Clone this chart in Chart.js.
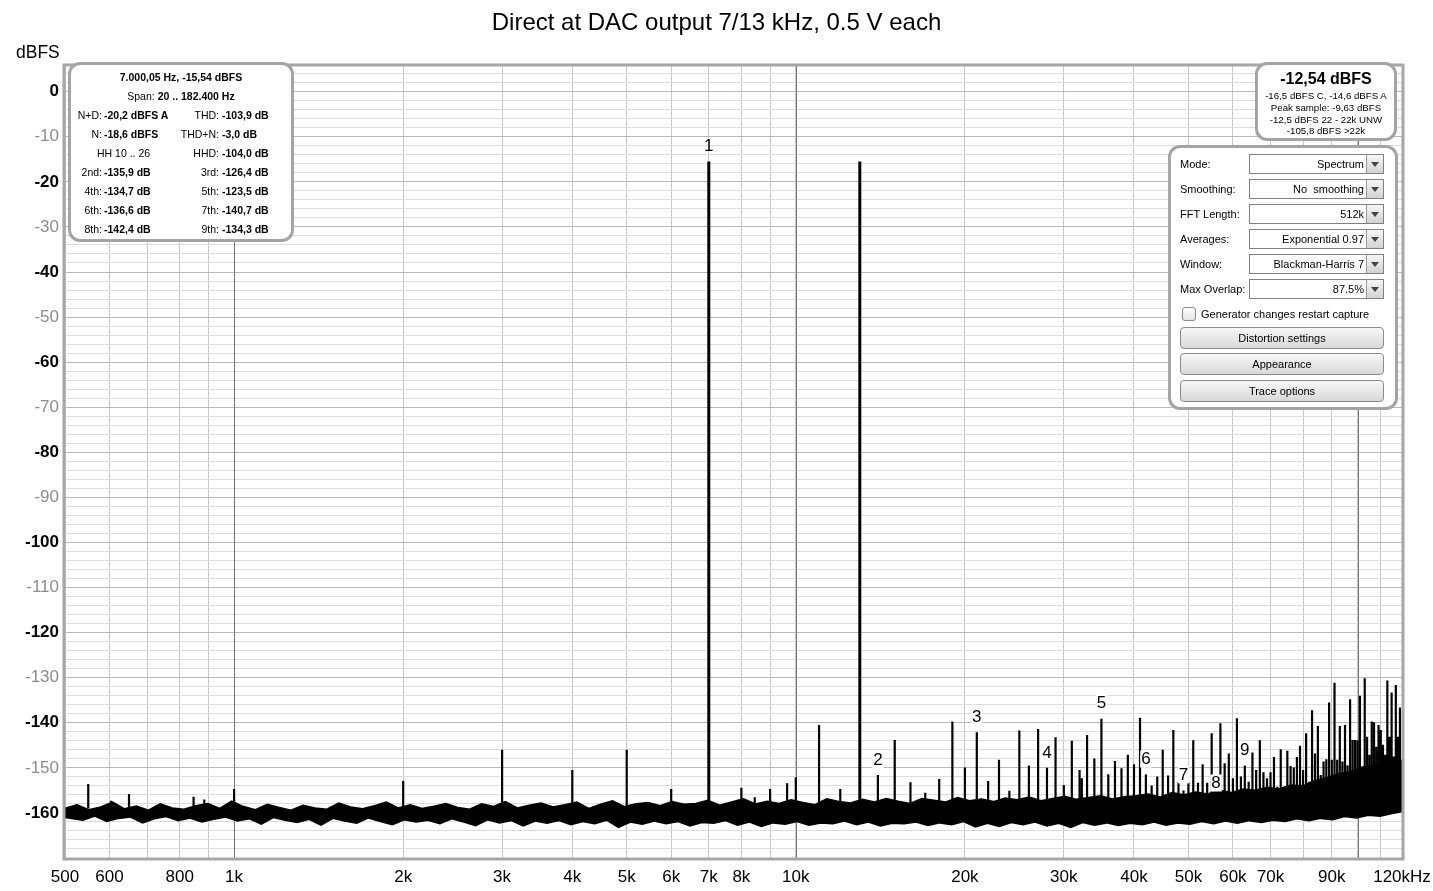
<!DOCTYPE html>
<html>
<head>
<meta charset="utf-8">
<title>Direct at DAC output 7/13 kHz</title>
<script src="https://cdn.jsdelivr.net/npm/chart.js@4.4.1/dist/chart.umd.min.js"></script>
<style>
body { margin: 0; background: #fff; font-family: "Liberation Sans", Arial, sans-serif; color: #000; }
#wrap { position: relative; width: 1433px; height: 891px; overflow: hidden; }
canvas { position: absolute; left: 0; top: 0; }
#title { position: absolute; left: 0; top: 8px; width: 1433px; text-align: center; font-size: 24px; line-height: 28px; }
#unit { position: absolute; left: 16px; top: 42px; font-size: 17.5px; line-height: 20px; }
.panel { position: absolute; box-sizing: border-box; border: 3px solid #a4a4a4; border-radius: 12px; background: #fff; }
.row { position: absolute; left: 0; width: 100%; height: 19px; line-height: 19px; font-size: 10.5px; white-space: nowrap; }
.row span, .row b { position: absolute; top: 0; }
.a { left: 0; width: 31px; text-align: right; }
.b { left: 33px; }
.c { left: 0; width: 148px; text-align: right; }
.d { left: 151px; }
.ctr { left: 0; width: 100%; text-align: center; }
.line { position: absolute; left: 0; width: 100%; text-align: center; white-space: nowrap; }
.lbl { position: absolute; left: 9px; height: 20px; line-height: 20px; font-size: 11px; }
.dd { position: absolute; left: 78px; width: 135px; height: 20px; box-sizing: border-box; border: 1px solid #808080; background: #fff; font-size: 11px; line-height: 18px; }
.dd span { position: absolute; right: 19px; top: 0; white-space: pre; }
.dd i { position: absolute; right: 0; top: 0; width: 16px; height: 18px; background: linear-gradient(#f6f6f6, #d2d2d2); border-left: 1px solid #9a9a9a; }
.dd i:after { content: ''; position: absolute; left: 4px; top: 7px; border-left: 4px solid transparent; border-right: 4px solid transparent; border-top: 5px solid #444; }
.chk { position: absolute; left: 11px; top: 159px; width: 14px; height: 14px; box-sizing: border-box; border: 1px solid #8a8a8a; border-radius: 3px; background: linear-gradient(#fdfdfd, #e4e4e4); }
.chkl { position: absolute; left: 30px; top: 158px; line-height: 16px; font-size: 11px; white-space: nowrap; }
.btn { position: absolute; left: 9px; width: 204px; height: 22px; box-sizing: border-box; border: 1px solid #8c8c8c; border-radius: 4px; background: linear-gradient(#f7f7f7, #d8d8d8); text-align: center; line-height: 20px; font-size: 11px; }
</style>
</head>
<body>
<div id="wrap">
  <canvas id="spectrumChart" width="1433" height="891"></canvas>
  <div id="title">Direct at DAC output 7/13 kHz, 0.5 V each</div>
  <div id="unit">dBFS</div>

  <div class="panel" style="left:68px;top:62px;width:226px;height:180px">
    <div class="row" style="top:2.5px"><b class="ctr">7.000,05 Hz, -15,54 dBFS</b></div>
    <div class="row" style="top:21.5px"><span class="ctr">Span: <b style="position:static">20 .. 182.400 Hz</b></span></div>
    <div class="row" style="top:40.5px"><span class="a">N+D:</span><b class="b">-20,2 dBFS A</b><span class="c">THD:</span><b class="d">-103,9 dB</b></div>
    <div class="row" style="top:59.5px"><span class="a">N:</span><b class="b">-18,6 dBFS</b><span class="c">THD+N:</span><b class="d">-3,0 dB</b></div>
    <div class="row" style="top:78.5px"><span style="left:26px">HH 10 .. 26</span><span class="c">HHD:</span><b class="d">-104,0 dB</b></div>
    <div class="row" style="top:97.5px"><span class="a">2nd:</span><b class="b">-135,9 dB</b><span class="c">3rd:</span><b class="d">-126,4 dB</b></div>
    <div class="row" style="top:116.5px"><span class="a">4th:</span><b class="b">-134,7 dB</b><span class="c">5th:</span><b class="d">-123,5 dB</b></div>
    <div class="row" style="top:135.5px"><span class="a">6th:</span><b class="b">-136,6 dB</b><span class="c">7th:</span><b class="d">-140,7 dB</b></div>
    <div class="row" style="top:154.5px"><span class="a">8th:</span><b class="b">-142,4 dB</b><span class="c">9th:</span><b class="d">-134,3 dB</b></div>
  </div>

  <div class="panel" style="left:1255px;top:62px;width:142px;height:79px">
    <div class="line" style="top:4px;line-height:20px;font-size:16px;font-weight:bold">-12,54 dBFS</div>
    <div class="line" style="top:25px;line-height:12px;font-size:9.7px">-16,5 dBFS C, -14,6 dBFS A</div>
    <div class="line" style="top:37px;line-height:12px;font-size:9.7px">Peak sample: -9,63 dBFS</div>
    <div class="line" style="top:49px;line-height:12px;font-size:9.7px">-12,5 dBFS 22 - 22k UNW</div>
    <div class="line" style="top:60px;line-height:12px;font-size:9.7px">-105,8 dBFS &gt;22k</div>
  </div>

  <div class="panel" style="left:1168px;top:145px;width:230px;height:265px">
    <div class="lbl" style="top:6px">Mode:</div>
    <div class="dd" style="top:6px"><span>Spectrum</span><i></i></div>
    <div class="lbl" style="top:31px">Smoothing:</div>
    <div class="dd" style="top:31px"><span>No  smoothing</span><i></i></div>
    <div class="lbl" style="top:56px">FFT Length:</div>
    <div class="dd" style="top:56px"><span>512k</span><i></i></div>
    <div class="lbl" style="top:81px">Averages:</div>
    <div class="dd" style="top:81px"><span>Exponential 0.97</span><i></i></div>
    <div class="lbl" style="top:106px">Window:</div>
    <div class="dd" style="top:106px"><span>Blackman-Harris 7</span><i></i></div>
    <div class="lbl" style="top:131px">Max Overlap:</div>
    <div class="dd" style="top:131px"><span>87.5%</span><i></i></div>
    <div class="chk"></div>
    <div class="chkl">Generator changes restart capture</div>
    <div class="btn" style="top:179px">Distortion settings</div>
    <div class="btn" style="top:205px">Appearance</div>
    <div class="btn" style="top:232px">Trace options</div>
  </div>
</div>

<script>
// test tones (Hz / dBFS)
const toneFreqs = [7000, 13000];
const toneLevels = [-15.5, -15.5];

// distortion / IM spurs
const spurFreqs = [
  550, 604, 650, 847, 885, 1000, 2000, 3000, 4000, 5000,
  6000, 8000, 8450, 9000, 9650, 10000, 11000, 12000, 14000, 15000,
  16000, 17000, 18000, 19000, 20000, 21000, 22000, 23000, 24000, 25000,
  26000, 27000, 28000, 29000, 30000, 31000, 32000, 32300, 33000, 34000,
  35000, 36000, 37000, 38000, 39000, 40000, 41000, 42000, 43000, 44000,
  45000, 46000, 47000, 48000, 49000, 50000, 51000, 52000, 53000, 54000,
  55000, 56000, 57000, 58000, 59000, 60000, 61000, 62000, 63000, 64000,
  65000, 66000, 67000, 68000, 69000, 70000, 71000, 72000, 73000, 74000,
  75000, 76000, 77000, 78000, 79000, 80000, 81000, 82000, 83000, 84000,
  85000, 86000, 87000, 88000, 89000, 90000, 91000, 92000, 93000, 94000,
  95000, 96000, 97000, 98000, 99000, 100000, 101000, 102000, 103000, 104000,
  105000, 106000, 107000, 108000, 109000, 110000, 111000, 112000, 113000, 114000,
  115000, 116000, 117000, 118000, 119000
];
const spurLevels = [
  -153.6, -157.3, -155.8, -156.4, -157.0, -154.7, -152.9, -146.0, -150.5, -146.0,
  -154.7, -154.4, -156.5, -154.7, -153.4, -152.1, -140.5, -154.7, -151.6, -143.8,
  -153.2, -155.5, -152.5, -139.7, -149.9, -142.1, -152.9, -148.2, -155.1, -141.7,
  -149.5, -141.4, -150.0, -143.2, -153.8, -144.0, -150.5, -152.3, -142.7, -147.9,
  -139.1, -151.4, -148.5, -150.1, -147.1, -149.2, -138.9, -151.5, -153.9, -151.9,
  -146.0, -151.7, -141.6, -153.1, -155.0, -153.1, -143.9, -153.3, -149.2, -153.3,
  -142.3, -156.8, -140.1, -149.0, -146.8, -152.3, -139.0, -151.9, -149.5, -153.1,
  -146.6, -150.5, -143.9, -151.0, -152.3, -151.0, -147.6, -154.2, -145.9, -154.2,
  -146.2, -149.6, -149.9, -147.6, -145.1, -150.5, -142.3, -153.1, -137.2, -146.8,
  -140.7, -151.6, -148.6, -148.1, -135.5, -148.2, -131.1, -148.2, -140.7, -148.6,
  -140.5, -149.4, -134.8, -143.8, -143.8, -143.9, -134.0, -150.0, -130.1, -143.1,
  -147.1, -139.7, -139.9, -145.3, -140.5, -141.6, -144.9, -147.1, -130.6, -143.1,
  -133.3, -147.5, -131.6, -143.1, -136.6
];

// harmonic markers of the 7 kHz tone
const harmFreqs = [7000, 14000, 21000, 28000, 35000, 42000, 49000, 56000, 63000];
const harmLabels = ['1', '2', '3', '4', '5', '6', '7', '8', '9'];

// noise floor band: upper edge (noiseFreqs / noiseTop), lower edge (noiseMidFreqs / noiseBottom)
const noiseFreqs = [
  500, 525, 551, 579, 608, 638, 670, 704, 739, 776,
  814, 855, 898, 943, 990, 1039, 1091, 1146, 1203, 1263,
  1327, 1393, 1463, 1536, 1613, 1693, 1778, 1867, 1960, 2058,
  2161, 2269, 2382, 2502, 2627, 2758, 2896, 3041, 3193, 3352,
  3520, 3696, 3881, 4075, 4279, 4493, 4717, 4953, 5201, 5461,
  5734, 6020, 6321, 6637, 6969, 7318, 7684, 8068, 8471, 8895,
  9340, 9807, 10297, 10812, 11352, 11920, 12516, 13142, 13799, 14489,
  15213, 15974, 16773, 17611, 18492, 19416, 20387, 21407, 22477, 23601,
  24781, 26020, 27321, 28687, 30121, 31628, 33209, 34869, 36613, 38443,
  40366, 42384, 44503, 46728, 49065, 51518, 54094, 56798, 59638, 62620,
  65751, 69039, 72491, 76115, 79921, 83917, 88113, 92519, 97145, 102002,
  107102, 112457, 118080, 120000
];
const noiseMidFreqs = [
  500, 538, 565, 593, 623, 654, 687, 721, 757, 795,
  834, 876, 920, 966, 1014, 1065, 1118, 1174, 1233, 1295,
  1360, 1428, 1499, 1574, 1653, 1735, 1822, 1913, 2009, 2109,
  2215, 2325, 2441, 2564, 2692, 2826, 2967, 3116, 3272, 3435,
  3607, 3787, 3977, 4175, 4384, 4604, 4834, 5076, 5330, 5596,
  5876, 6170, 6478, 6802, 7142, 7499, 7874, 8268, 8681, 9115,
  9571, 10050, 10552, 11080, 11634, 12215, 12826, 13467, 14141, 14848,
  15590, 16370, 17188, 18048, 18950, 19898, 20893, 21937, 23034, 24186,
  25395, 26665, 27998, 29398, 30868, 32412, 34032, 35734, 37520, 39396,
  41366, 43434, 45606, 47886, 50281, 52795, 55434, 58206, 61117, 64172,
  67381, 70750, 74288, 78002, 81902, 85997, 90297, 94812, 99553, 104530,
  109757, 115245, 119040, 120000
];
const noiseTop = [
  -159.0, -158.2, -159.3, -158.7, -157.6, -159.1, -158.5, -159.4, -158.0, -158.9,
  -159.2, -158.4, -157.9, -159.0, -157.4, -158.6, -159.3, -158.1, -158.8, -159.4,
  -158.3, -158.9, -159.2, -157.8, -158.7, -159.1, -158.4, -157.6, -158.9, -158.2,
  -159.0, -158.5, -157.9, -158.8, -159.2, -158.0, -158.6, -157.5, -158.9, -158.3,
  -157.8, -158.7, -158.2, -157.6, -159.0, -158.1, -157.3, -158.6, -158.0, -157.7,
  -158.4, -157.5, -158.1, -157.9, -157.2, -158.3, -157.6, -156.9, -158.0, -157.4,
  -157.9, -157.1, -157.7, -158.2, -156.9, -157.5, -157.8, -157.0, -157.6, -156.8,
  -157.4, -157.9, -156.8, -157.2, -157.6, -156.6, -157.3, -156.9, -157.5, -156.7,
  -157.1, -156.5, -157.3, -156.8, -156.3, -157.0, -156.6, -156.2, -156.9, -156.4,
  -156.2, -155.8, -156.5, -155.5, -156.0, -155.4, -155.8, -155.0, -155.5, -154.7,
  -155.0, -154.3, -154.7, -153.8, -154.0, -152.8, -152.2, -151.3, -150.8, -149.8,
  -149.5, -148.4, -147.8, -148.5
];
const noiseBottom = [
  -161.0, -161.6, -160.7, -161.9, -161.2, -160.9, -162.2, -161.3, -160.8, -161.7,
  -161.1, -162.0, -161.4, -160.9, -161.8, -161.3, -162.5, -161.0, -161.6, -162.1,
  -161.4, -162.7, -161.2, -161.8, -162.3, -161.1, -161.9, -162.6, -161.5, -162.0,
  -161.6, -162.4, -161.3, -162.0, -162.8, -161.5, -162.2, -161.7, -162.9, -161.8,
  -162.3, -161.7, -162.6, -161.9, -162.4, -161.6, -163.2, -162.0, -162.5, -161.8,
  -162.4, -161.9, -162.9, -162.1, -162.3, -161.7, -162.7, -162.0, -163.0, -162.2,
  -162.5, -161.9, -162.7, -162.2, -162.4, -161.8, -162.6, -162.0, -162.9, -162.3,
  -162.4, -162.0, -162.8, -162.2, -162.6, -161.9, -163.1, -162.3, -163.0, -162.1,
  -162.6, -162.0, -162.9, -162.3, -163.2, -162.1, -162.7, -162.2, -162.8, -162.3,
  -162.6, -162.0, -162.7, -162.2, -162.5, -161.9, -162.4, -161.8, -162.3, -161.7,
  -162.1, -161.6, -161.9, -161.3, -161.7, -161.2, -161.5, -160.8, -161.1, -160.5,
  -160.7, -160.1, -159.8, -159.6
];

// axes
const gridFreqs = [
  500, 600, 700, 800, 900, 1000, 2000, 3000, 4000, 5000, 6000, 7000, 8000, 9000,
  10000, 20000, 30000, 40000, 50000, 60000, 70000, 80000, 90000, 100000, 110000, 120000
];
const xTickValues = [500, 600, 800, 1000, 2000, 3000, 4000, 5000, 6000, 7000, 8000,
  10000, 20000, 30000, 40000, 50000, 60000, 70000, 90000, 120000];
const xTickLabels = ['500', '600', '800', '1k', '2k', '3k', '4k', '5k', '6k', '7k', '8k',
  '10k', '20k', '30k', '40k', '50k', '60k', '70k', '90k', '120kHz'];
const yTickValues = [0, -10, -20, -30, -40, -50, -60, -70, -80, -90, -100, -110, -120, -130, -140, -150, -160];
const darkGridFreqs = [1000, 10000, 100000];

const spikeBase = -159;
const FONT = "'Liberation Sans', Arial, sans-serif";

function spikePoints(freqs, levels) {
    const pts = [];
    freqs.forEach(function(f, i) {
        pts.push({ x: f, y: spikeBase }, { x: f, y: levels[i] }, { x: f, y: null });
    });
    return pts;
}

function levelAt(f) {
    const t = toneFreqs.indexOf(f);
    if (t >= 0) return toneLevels[t];
    return spurLevels[spurFreqs.indexOf(f)];
}

function tickValue(c) {
    return c && c.tick ? c.tick.value : null;
}

// dark decade lines, plot frame and harmonic numbers
const overlayPlugin = {
    id: 'overlay',
    beforeDatasetsDraw(chart) {
        const a = chart.chartArea;
        const ctx = chart.ctx;
        ctx.save();
        ctx.strokeStyle = '#767676';
        ctx.lineWidth = 1;
        darkGridFreqs.forEach(function(f) {
            const x = Math.round(chart.scales.x.getPixelForValue(f)) + 0.5;
            ctx.beginPath();
            ctx.moveTo(x, a.top);
            ctx.lineTo(x, a.bottom);
            ctx.stroke();
        });
        ctx.restore();
    },
    afterDatasetsDraw(chart) {
        const ctx = chart.ctx;
        const xs = chart.scales.x, ys = chart.scales.y;
        ctx.save();
        ctx.font = '17px ' + FONT;
        ctx.textAlign = 'center';
        ctx.textBaseline = 'middle';
        harmFreqs.forEach(function(f, i) {
            const x = xs.getPixelForValue(f);
            const y = ys.getPixelForValue(levelAt(f)) - 15;
            const w = ctx.measureText(harmLabels[i]).width;
            if (i > 0) {
                ctx.fillStyle = '#fff';
                ctx.fillRect(x - w / 2 - 1, y - 9, w + 2, 17);
            }
            ctx.fillStyle = '#000';
            ctx.fillText(harmLabels[i], x, y);
        });
        ctx.restore();
    },
    afterDraw(chart) {
        const a = chart.chartArea;
        const ctx = chart.ctx;
        ctx.save();
        ctx.strokeStyle = '#a6a6a6';
        ctx.lineWidth = 3;
        ctx.strokeRect(a.left - 1, a.top - 1, a.right - a.left + 2, a.bottom - a.top + 2);
        ctx.restore();
    }
};

document.addEventListener('DOMContentLoaded', function() {
    Chart.defaults.font.family = FONT;

    const ctx = document.getElementById('spectrumChart').getContext('2d');
    new Chart(ctx, {
        type: 'line',
        data: {
            datasets: [
                {
                    data: noiseFreqs.map((f, i) => ({ x: f, y: noiseTop[i] })),
                    borderColor: '#000', borderWidth: 1.6, backgroundColor: '#000',
                    fill: '+1', pointRadius: 0, tension: 0, order: 3
                },
                {
                    data: noiseMidFreqs.map((f, i) => ({ x: f, y: noiseBottom[i] })),
                    borderColor: '#000', borderWidth: 1.6,
                    fill: false, pointRadius: 0, tension: 0, order: 3
                },
                {
                    data: spikePoints(spurFreqs, spurLevels),
                    borderColor: '#000', borderWidth: 2.2,
                    fill: false, pointRadius: 0, spanGaps: false, order: 1
                },
                {
                    data: spikePoints(toneFreqs, toneLevels),
                    borderColor: '#000', borderWidth: 3,
                    fill: false, pointRadius: 0, spanGaps: false, order: 0
                }
            ]
        },
        options: {
            responsive: false,
            animation: false,
            events: [],
            layout: { padding: { left: 0, top: 66, right: 31, bottom: 0 } },
            plugins: {
                legend: { display: false },
                tooltip: { enabled: false },
                title: { display: false }
            },
            scales: {
                x: {
                    type: 'logarithmic',
                    min: 500,
                    max: 120000,
                    afterBuildTicks: function(scale) {
                        scale.ticks = gridFreqs.map(v => ({ value: v }));
                    },
                    afterFit: function(scale) {
                        scale.height = 33;
                        scale.paddingLeft = 0;
                        scale.paddingRight = 0;
                    },
                    border: { display: false },
                    grid: {
                        drawTicks: false,
                        lineWidth: 1,
                        color: '#c6c6c6'
                    },
                    ticks: {
                        autoSkip: false,
                        maxRotation: 0,
                        minRotation: 0,
                        padding: 9,
                        color: '#000',
                        font: { size: 17 },
                        callback: function(value) {
                            const i = xTickValues.indexOf(value);
                            return i < 0 ? '' : xTickLabels[i];
                        }
                    }
                },
                y: {
                    type: 'linear',
                    min: -170,
                    max: 5.7,
                    afterBuildTicks: function(scale) {
                        const t = [];
                        for (let v = -170; v <= 4; v += 2) t.push({ value: v });
                        scale.ticks = t;
                    },
                    afterFit: function(scale) {
                        scale.width = 65;
                        scale.paddingTop = 0;
                        scale.paddingBottom = 0;
                    },
                    border: { display: false },
                    grid: {
                        drawTicks: false,
                        lineWidth: 1,
                        color: c => (tickValue(c) !== null && tickValue(c) % 10 === 0 ? '#b8b8b8' : '#dcdcdc')
                    },
                    ticks: {
                        autoSkip: false,
                        padding: 6,
                        color: c => (tickValue(c) !== null && tickValue(c) % 20 === 0 ? '#000' : '#8c8c8c'),
                        font: c => ({ size: 17, weight: tickValue(c) !== null && tickValue(c) % 20 === 0 ? 'bold' : 'normal' }),
                        callback: function(value) {
                            return yTickValues.includes(value) ? String(value) : '';
                        }
                    }
                }
            }
        },
        plugins: [overlayPlugin]
    });
});
</script>
</body>
</html>
